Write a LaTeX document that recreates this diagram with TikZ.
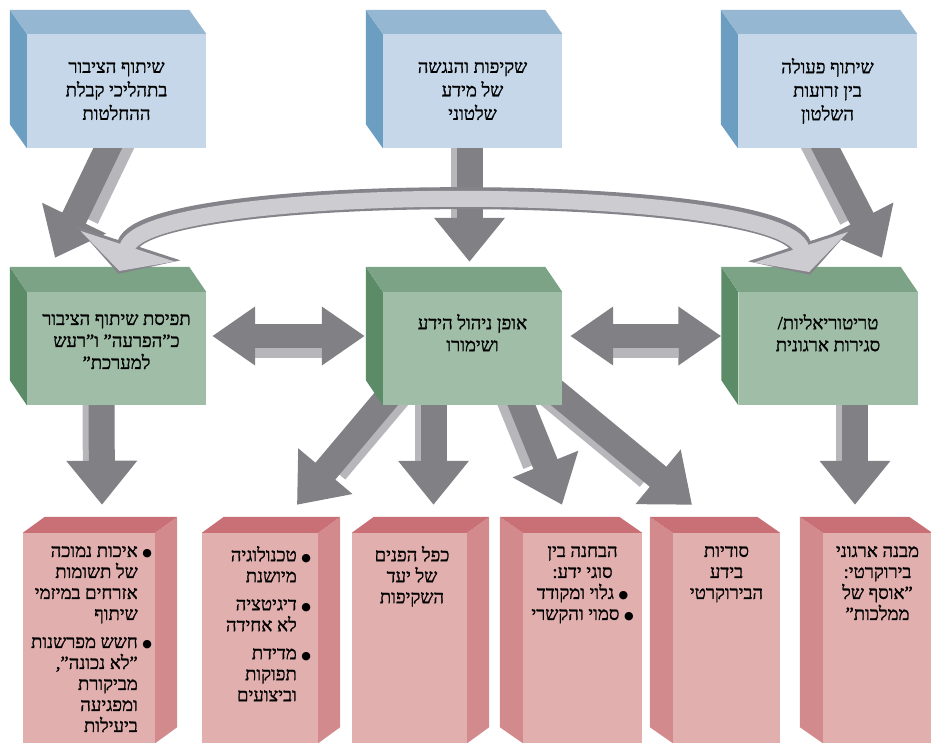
\documentclass[tikz,border=0pt]{standalone}
\usepackage{fontspec}
\newfontfamily\hebfont[Script=Hebrew,FakeBold=1.2]{Liberation Serif}
\newfontfamily\dotfont{DejaVu Sans}
\TeXXeTstate=1
\usetikzlibrary{arrows.meta}
\pgfdeclarelayer{behind}
\pgfsetlayers{behind,main}

\definecolor{bluefront}{RGB}{197,215,232}
\definecolor{bluetop}{RGB}{150,183,210}
\definecolor{blueside}{RGB}{108,158,194}
\definecolor{greenfront}{RGB}{160,189,168}
\definecolor{greentop}{RGB}{124,163,134}
\definecolor{greenside}{RGB}{92,139,104}
\definecolor{redfront}{RGB}{226,175,175}
\definecolor{redtop}{RGB}{200,112,118}
\definecolor{redside}{RGB}{211,138,141}
\definecolor{arrowdark}{RGB}{128,128,133}
\definecolor{arrowlight}{RGB}{182,182,187}
\definecolor{arcfill}{RGB}{204,204,209}
\definecolor{arcedge}{RGB}{132,132,138}

\newcommand{\heb}[1]{\beginR #1\endR}
\newcommand{\hdot}{{\dotfont\fontsize{11pt}{11pt}\selectfont ●}\ }
\newcommand{\hbl}[1]{\beginR\hdot #1\endR}
\newcommand{\hcn}[1]{\beginR\hphantom{\hdot}#1\endR}

% box with depth to the upper left / upper right
\newcommand{\cubeL}[4]{%
  \fill[#2side] (#1.north west) -- ([shift={(-#3,-#4)}]#1.north west) -- ([shift={(-#3,-#4)}]#1.south west) -- (#1.south west) -- cycle;
  \fill[#2top] (#1.north west) -- ([shift={(-#3,-#4)}]#1.north west) -- ([shift={(-#3,-#4)}]#1.north east) -- (#1.north east) -- cycle;}
\newcommand{\cubeR}[4]{%
  \fill[#2side] (#1.north east) -- ([shift={(#3,-#4)}]#1.north east) -- ([shift={(#3,-#4)}]#1.south east) -- (#1.south east) -- cycle;
  \fill[#2top] (#1.north west) -- ([shift={(#3,-#4)}]#1.north west) -- ([shift={(#3,-#4)}]#1.north east) -- (#1.north east) -- cycle;}
% block arrow with a light side
\newcommand{\garrow}[3]{%
  \draw[shade, transform canvas={#3}] #1 -- #2;
  \draw[blk] #1 -- #2;}

\tikzset{
  bface/.style={fill=bluefront, minimum width=179pt, minimum height=114pt, inner sep=0pt,
    align=center, font=\hebfont\fontsize{18.5pt}{23.5pt}\selectfont},
  gface/.style={fill=greenfront, minimum width=179pt, minimum height=113pt, inner sep=0pt},
  rface/.style={fill=redfront, minimum height=210pt, inner sep=0pt},
  gtxt/.style={inner sep=0pt, align=center, font=\hebfont\fontsize{18.5pt}{22pt}\selectfont},
  rtxt/.style={inner sep=0pt, align=center, font=\hebfont\fontsize{18.5pt}{21pt}\selectfont},
  blk/.style={line width=26pt, draw=arrowdark, -{Triangle[length=44pt,width=68pt]}},
  shade/.style={line width=26pt, draw=arrowlight, shorten >=44pt},
  blkboth/.style={line width=24pt, draw=arrowdark,
    {Triangle[length=43pt,width=56pt]}-{Triangle[length=43pt,width=56pt]}},
  hshade/.style={line width=24pt, draw=arrowlight, shorten >=43pt, shorten <=43pt},
}

\begin{document}
\begin{tikzpicture}[x=1pt,y=-1pt]
\useasboundingbox (0,0) rectangle (931,743);

% top row
\node[bface] (b1) at (116.5,91) {\heb{שיתוף הציבור}\\\heb{בתהליכי קבלת}\\\heb{ההחלטות}};
\node[bface] (b2) at (472.5,91) {\heb{שקיפות והנגשה}\\\heb{של מידע}\\\heb{שלטוני}};
\node[bface] (b3) at (827.5,91) {\heb{שיתוף פעולה}\\\heb{בין זרועות}\\\heb{השלטון}};
\cubeL{b1}{blue}{17}{24}
\cubeL{b2}{blue}{17}{24}
\cubeL{b3}{blue}{17}{24}

% middle row
\node[gface] (g1) at (116.5,348.5) {};
\node[gface] (g2) at (472.5,348.5) {};
\node[gface] (g3) at (828,348.5) {};
\cubeL{g1}{green}{17}{25}
\cubeL{g2}{green}{17}{25}
\cubeL{g3}{green}{17}{25}
\node[gtxt, anchor=north] (g1t) at ([yshift=-22pt]g1.north)
  {\heb{תפיסת שיתוף הציבור}\\\heb{כ”הפרעה” ו”רעש}\\\heb{למערכת”}};
\node[gtxt, anchor=north] (g2t) at ([yshift=-22pt]g2.north)
  {\heb{אופן ניהול הידע}\\\heb{ושימורו}};
\node[gtxt, anchor=north] (g3t) at ([yshift=-22pt]g3.north)
  {\heb{טריטוריאליות/}\\\heb{סגירות ארגונית}};

% bottom row
\node[rface, minimum width=132pt] (r1) at (89,638) {};
\node[rface, minimum width=116pt] (r2) at (260,638) {};
\node[rface, minimum width=115pt] (r3) at (409.5,638) {};
\node[rface, minimum width=119pt] (r4) at (582.5,638) {};
\node[rface, minimum width=107pt] (r5) at (726.5,638) {};
\node[rface, minimum width=109pt] (r6) at (877.5,638) {};
\cubeR{r1}{red}{22}{16}
\cubeR{r2}{red}{22}{16}
\cubeR{r3}{red}{22}{16}
\cubeL{r4}{red}{23}{16}
\cubeL{r5}{red}{23}{16}
\cubeL{r6}{red}{23}{16}
\node[rtxt, align=right, anchor=north east] (r1t) at ([xshift=-3pt,yshift=-13pt]r1.north east)
  {\hbl{איכות נמוכה}\\\hcn{של תשומות}\\\hcn{אזרחים במיזמי}\\\hcn{שיתוף}\\[7pt]
   \hbl{חשש מפרשנות}\\\hcn{”לא נכונה”,}\\\hcn{מביקורת}\\\hcn{ומפגיעה}\\\hcn{ביעילות}};
\node[rtxt, align=right, anchor=north east] (r2t) at ([xshift=-7pt,yshift=-13pt]r2.north east)
  {\hbl{טכנולוגיה}\\\hcn{מיושנת}\\[7pt]\hbl{דיגיטציה}\\\hcn{לא אחידה}\\[7pt]
   \hbl{מדידת}\\\hcn{תפוקות}\\\hcn{וביצועים}};
\node[rtxt, anchor=north] (r3t) at ([xshift=2.5pt,yshift=-13pt]r3.north)
  {\heb{כפל הפנים}\\\heb{של יעד}\\\heb{השקיפות}};
\node[rtxt, anchor=north] (r4t) at ([yshift=-13pt]r4.north)
  {\heb{הבחנה בין}\\\heb{סוגי ידע:}\\\hbl{גלוי ומקודד}\\\hbl{סמוי והקשרי}};
\node[rtxt, anchor=north] (r5t) at ([yshift=-13pt]r5.north)
  {\heb{סודיות}\\\heb{בידע}\\\heb{הבירוקרטי}};
\node[rtxt, anchor=north] (r6t) at ([yshift=-13pt]r6.north)
  {\heb{מבנה ארגוני}\\\heb{בירוקרטי:}\\\heb{”אוסף של}\\\heb{ממלכות”}};

% block arrows, behind the boxes
\begin{pgfonlayer}{behind}
  \fill[white] (0,0) rectangle (931,743);
  \garrow{([xshift=-4pt,yshift=10pt]b1.south)}{([xshift=-61.5pt,yshift=34pt]g1.north)}{xshift=12pt}
  \garrow{([xshift=-3pt,yshift=10pt]b2.south)}{([xshift=-3pt,yshift=30pt]g2.north)}{xshift=-6pt}
  \garrow{([xshift=-7pt,yshift=10pt]b3.south)}{([xshift=54pt,yshift=34pt]g3.north)}{xshift=-10pt}
  \garrow{([xshift=-15pt,yshift=10pt]g1.south)}{([xshift=13pt,yshift=28pt]r1.north)}{xshift=-6pt}
  \garrow{([xshift=27pt,yshift=10pt]g3.south)}{([xshift=-22.5pt,yshift=28pt]r6.north)}{xshift=-6pt}
  \garrow{([xshift=15pt,yshift=20pt]g2.south west)}{([xshift=37pt,yshift=28pt]r2.north)}{xshift=10pt}
  \garrow{([xshift=-39pt,yshift=10pt]g2.south)}{([xshift=24pt,yshift=28pt]r3.north)}{xshift=-6pt}
  \garrow{([xshift=45pt,yshift=10pt]g2.south)}{([xshift=-20.5pt,yshift=28pt]r4.north)}{xshift=-10pt}
  \garrow{([xshift=-15pt,yshift=20pt]g2.south east)}{([xshift=-34.5pt,yshift=28pt]r5.north)}{xshift=-10pt}
  \draw[hshade, transform canvas={yshift=-10pt}] ([xshift=6pt,yshift=12.5pt]g1.east) -- ([xshift=-18pt,yshift=12.5pt]g2.west);
  \draw[blkboth] ([xshift=6pt,yshift=12.5pt]g1.east) -- ([xshift=-18pt,yshift=12.5pt]g2.west);
  \draw[hshade, transform canvas={yshift=-10pt}] ([xshift=8pt,yshift=12.5pt]g2.east) -- ([xshift=-17pt,yshift=12.5pt]g3.west);
  \draw[blkboth] ([xshift=8pt,yshift=12.5pt]g2.east) -- ([xshift=-17pt,yshift=12.5pt]g3.west);
\end{pgfonlayer}

% curved double arrow over the middle row
\draw[line width=22pt, draw=arcedge, {Triangle[length=32pt,width=108pt]}-{Triangle[length=32pt,width=108pt]}]
  ([xshift=2pt,yshift=18pt]g1.north) .. controls +(30,-92) and +(-30,-92) .. ([xshift=-18pt,yshift=17pt]g3.north);
\draw[line width=16pt, draw=arcfill, shorten <=3pt, shorten >=3pt,
  {Triangle[length=26pt,width=98pt]}-{Triangle[length=26pt,width=98pt]}]
  ([xshift=2pt,yshift=18pt]g1.north) .. controls +(30,-92) and +(-30,-92) .. ([xshift=-18pt,yshift=17pt]g3.north);
\end{tikzpicture}
\end{document}
